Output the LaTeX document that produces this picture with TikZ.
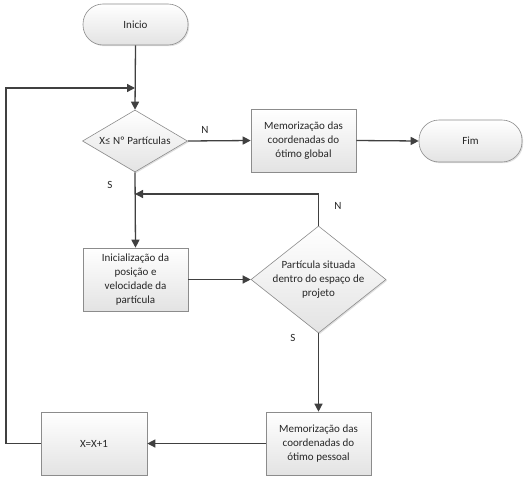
\documentclass[tikz,border=0pt]{standalone}
\usepackage{fontspec}
\setmainfont{Carlito}
\usetikzlibrary{arrows.meta,shadows,shapes.geometric}
\definecolor{linec}{HTML}{404040}
\definecolor{bordc}{HTML}{8C8C8C}
\tikzset{
  every node/.style={font=\fontsize{11}{14}\selectfont, text=black!85},
  shp/.style={draw=bordc, line width=0.6pt, top color=white, bottom color=gray!22,
    drop shadow={shadow xshift=1.2pt, shadow yshift=-1.2pt, opacity=0.25}, inner sep=0pt, align=center},
  procbox/.style={shp, rectangle, minimum width=105pt, minimum height=63pt},
  term/.style={shp, rectangle, rounded corners=20pt, minimum height=41pt},
  dia/.style={shp, diamond},
  arr/.style={draw=linec, line width=1.3pt, -{Triangle[length=8pt,width=8pt]}},
  ln/.style={draw=linec, line width=1.3pt},
  lbl/.style={font=\fontsize{11}{14}\selectfont}
}
\begin{document}
\begin{tikzpicture}[x=1pt,y=-1pt]
\useasboundingbox (0,0) rectangle (526,479);
\node[term, minimum width=105pt] (inicio) at (135.5,24.5) {Inicio};
\node[dia, minimum width=105pt, minimum height=62pt] (d1) at (135,141) {};
\node (d1t) at (d1) {X≤ Nº Partículas};
\node[procbox] (mg) at (303.5,140.5) {Memorização das\\coordenadas do\\ótimo global};
\node[term, minimum width=103pt, minimum height=42pt] (fim) at (470.5,141) {Fim};
\node[procbox] (ini) at (135.5,279.5) {Inicialização da\\posição e\\velocidade da\\partícula};
\node[dia, minimum width=135pt, minimum height=107pt] (d2) at (318.5,279.5) {};
\node[align=center] (d2t) at (d2) {Partícula situada\\dentro do espaço de\\projeto};
\node[procbox] (mp) at (318.5,443.5) {Memorização das\\coordenadas do\\ótimo pessoal};
\node[procbox, minimum width=106pt] (xx) at (94,443.5) {X=X+1};
\coordinate (c1) at (135,88);
\coordinate (c2) at (135,194);
\coordinate (lx) at (6,443.5);
\draw[arr] (inicio.south) -- (d1.north);
\draw[arr] (xx.west) -- (lx) |- (c1);
\draw[arr] (d1.east) -- (mg.west);
\draw[arr] (mg.east) -- (fim.west);
\draw[arr] (d1.south) -- (ini.north);
\draw[arr] (d2.north) |- (c2);
\draw[arr] (ini.east) -- (d2.west);
\draw[arr] (d2.south) -- (mp.north);
\draw[arr] (mp.west) -- (xx.east);
\node[lbl] (n1) at (205,130) {N};
\node[lbl] (s1) at (110,185) {S};
\node[lbl] (n2) at (338,206) {N};
\node[lbl] (s2) at (293,338) {S};
\end{tikzpicture}
\end{document}
